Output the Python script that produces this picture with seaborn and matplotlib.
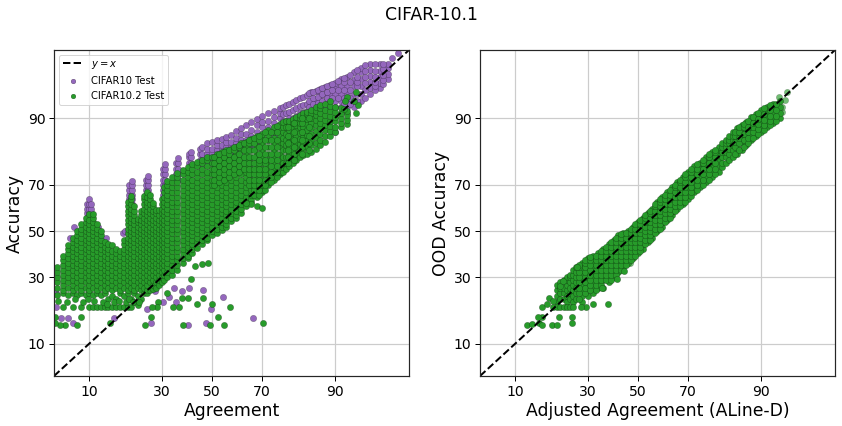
import numpy as np
import pandas as pd
import matplotlib
matplotlib.use('Agg')
import matplotlib.pyplot as plt
import seaborn as sns
from statistics import NormalDist

# valores, em %: (agreement, [accuracy, ...]) por coluna
purple_spikes = [
    (9.6, [56, 58, 60, 62]), (10, [54, 56, 58, 60, 62, 64]), (10.4, [56, 58, 60, 62]),
    (19.5, [60, 62, 64, 66, 68, 70]), (20.2, [60, 62, 64, 66, 68, 70, 71.5]),
    (24.6, [64, 66, 68, 70, 72]), (25.2, [64, 66, 68, 70, 72, 73.5]),
    (30.5, [64, 66, 68, 70, 72, 74, 76]), (31.3, [66, 68, 70, 72, 74, 76, 77.5]),
    (35.5, [72, 74, 76, 78]), (36.3, [72, 74, 76, 78, 79.5]),
    (40.5, [74, 76, 78, 80, 81]), (41.5, [74, 76, 78, 80, 81.5]),
    (45, [77, 79, 81, 82.5]), (46, [77, 79, 81, 83]),
]
purple_band = [
    (48, [78, 79.5, 81, 82.5, 84]), (50, [78, 79.5, 81, 82.5, 84.3]),
    (52, [79, 80.5, 82, 83.5, 84.8]), (54, [79, 80.5, 82, 83.5, 85.2]),
    (56, [80, 81.5, 83, 84.5, 85.8]), (58, [80, 81.5, 83, 84.5, 86.3]),
    (60, [81, 82.5, 84, 85.5, 87.2]), (62, [82, 83.5, 85, 86.5, 87.9]),
    (64, [82, 83.5, 85, 86.5, 88.6]), (66, [83, 84.5, 86, 87.5, 89.2]),
    (68, [84, 85.5, 87, 88.5, 89.8]), (70, [85, 86.5, 88, 89.2, 90.4]),
    (72, [85, 86.5, 88, 89.5, 91]), (74, [86, 87.5, 89, 90.3, 91.4]),
    (76, [87, 88.5, 90, 91, 91.9]), (77, [88, 89.5, 90.7, 92]),
    (78, [88, 89.5, 91, 92.3]), (79, [88.5, 90, 91.2, 92.6]),
    (80, [88.5, 90, 91.5, 92.9]), (81, [89, 90.5, 91.8, 93.1]),
    (82, [89.5, 91, 92.2, 93.4]), (83, [90, 91.2, 92.4, 93.6]),
    (84, [90, 91.3, 92.6, 93.9]), (85, [90.5, 91.8, 93, 94.2]),
    (86, [91, 92.2, 93.3, 94.4]), (87, [91.5, 92.6, 93.7, 94.7]),
    (88, [92, 93, 94, 94.9]), (89, [92, 93, 94, 95.1]),
    (90, [92, 93, 94, 95, 95.4]), (91, [92, 93, 94, 95, 95.8]),
    (92, [91, 92, 93, 94, 95, 96]), (93, [92, 93, 94, 95, 95.7, 96.4]),
    (94, [93, 94, 95, 95.8, 96.4, 96.8]), (95, [94, 94.8, 95.5, 96.1, 96.6, 97.1]),
    (96, [94.8, 95.4, 96, 96.5, 97.1]), (96.7, [95.8, 96.3, 96.8, 97.1]),
    (97, [97.5]), (97.4, [97.8]),
]
purple_fill = [
    (84.5, [92, 93, 94.1]), (85.5, [92.5, 93.5, 94.3]), (86.5, [92.7, 93.6, 94.5]),
    (87.5, [93, 94, 94.8]), (88.5, [93.4, 94.3, 95]), (89.5, [93.5, 94.5, 95.2]),
    (90.5, [93.5, 94.5, 95.6]), (91.5, [92.5, 93.5, 94.5, 95.5, 95.9]),
    (92.5, [92.5, 93.5, 94.5, 95.5, 96.2]), (93.5, [93, 94, 95, 95.5, 96, 96.6]),
    (94.5, [93.5, 94.5, 95.3, 96, 96.5, 97]), (95.5, [94.5, 95, 95.5, 96, 96.5, 97.1]),
    (96.3, [95.2, 95.7, 96.2, 96.7, 97.1]),
]
purple_stray = [
    (34.6, [25.9]), (37.7, [24.8]), (40.5, [25.9]), (46.3, [25.1]), (54.6, [22.7]),
    (30.5, [21]), (32.7, [22.7]), (35.4, [21]), (24.9, [18.8]), (49.6, [18.8]),
    (66.5, [16.1]), (6.7, [16.1]), (5.8, [16.1]), (15.4, [16.1]), (40.1, [14.3]),
    (47.5, [14.8]), (26.3, [14.8]), (7.4, [14.8]), (27.6, [24.8]),
    (7.6, [52]), (11.7, [52]), (7, [47]), (13.4, [47]), (17.6, [49]), (18.2, [50]),
    (5.2, [19.4, 24]), (90, [87]),
]
green_cluster = [
    (5.3, [23.5, 26, 28, 30, 32, 34]),
    (6, [19.4, 24, 25, 27, 29, 31, 33, 35, 37, 39]),
    (6.7, [23.5, 26, 28, 30, 32, 34, 36, 38, 40, 42, 43.5]),
    (7.4, [19.4, 24, 25, 27, 29, 31, 33, 35, 37, 39, 41, 43, 45, 47]),
    (8, [23.5, 26, 28, 30, 32, 34, 36, 38, 40, 42, 44, 46, 48, 50]),
    (8.7, [19.4, 24, 25, 27, 29, 31, 33, 35, 37, 39, 41, 43, 45, 47, 49, 51, 53]),
    (9.4, [23.5, 26, 28, 30, 32, 34, 36, 38, 40, 42, 44, 46, 48, 50, 52, 54, 56]),
    (10, [19.4, 24, 25, 27, 29, 31, 33, 35, 37, 39, 41, 43, 45, 47, 49, 51, 53, 55, 57.5]),
    (10.7, [19.4, 23.5, 26, 28, 30, 32, 34, 36, 38, 40, 42, 44, 46, 48, 50, 52, 54, 56, 57.5]),
    (11.5, [19.4, 24, 25, 27, 29, 31, 33, 35, 37, 39, 41, 43, 45, 47, 49, 51, 53]),
    (12.3, [19.4, 23.5, 26, 28, 30, 32, 34, 36, 38, 40, 42, 44, 46, 48, 50]),
    (13.2, [19.4, 24, 25, 27, 29, 31, 33, 35, 37, 39, 41, 43, 45]),
    (14, [19.4, 22, 26, 28, 30, 32, 34, 36, 38, 40, 42, 44]),
    (15, [19.4, 23, 25, 27, 29, 31, 33, 35, 37, 39, 41, 43.5]),
    (16, [19.4, 22, 26, 28, 30, 32, 34, 36, 38, 40, 42]),
    (17, [19.4, 24, 25, 27, 29, 31, 33, 35, 37, 39, 41]),
    (18, [19.4, 23, 26, 28, 30, 32, 34, 36, 38, 40, 42, 44, 46]),
    (19, [19.4, 24, 25, 27, 29, 31, 33, 35, 37, 39, 41, 43, 45, 47, 49, 51, 53, 55, 57, 59, 61, 63]),
    (20, [19.4, 22, 26, 28, 30, 32, 34, 36, 38, 40, 42, 44, 46, 48, 50, 52, 54, 56, 58, 60, 62, 64, 65.5]),
    (21, [21, 24, 25, 27, 29, 31, 33, 35, 37, 39, 41, 43, 45, 47, 49, 51, 53, 55, 57, 59, 61]),
    (22, [20, 23, 26, 28, 30, 32, 34, 36, 38, 40, 42, 44, 46, 48, 50, 52, 54, 55.5]),
    (23, [22, 25, 27, 29, 31, 33, 35, 37, 39, 41, 43, 45, 47, 49, 51, 53, 55, 57, 59]),
    (24, [24, 26, 28, 30, 32, 34, 36, 38, 40, 42, 44, 46, 48, 50, 52, 54, 56, 58, 60, 62, 64, 65.5]),
    (25, [24, 25, 27, 29, 31, 33, 35, 37, 39, 41, 43, 45, 47, 49, 51, 53, 55, 57, 59, 61, 63, 65, 67]),
    (26, [25, 28, 30, 32, 34, 36, 38, 40, 42, 44, 46, 48, 50, 52, 54, 56, 58, 60, 62, 64, 66]),
    (27, [25.5, 27, 29, 31, 33, 35, 37, 39, 41, 43, 45, 47, 49, 51, 53, 55, 57, 59, 61, 62.5]),
    (28, [26, 28, 30, 32, 34, 36, 38, 40, 42, 44, 46, 48, 50, 52, 54, 56, 58, 59.5]),
    (29, [27, 29, 31, 33, 35, 37, 39, 41, 43, 45, 47, 49, 51, 53, 55, 57, 59.5]),
    (30, [28, 30, 32, 34, 36, 38, 40, 42, 44, 46, 48, 50, 52, 54, 56, 58, 60, 62, 64]),
    (31, [29, 31, 33, 35, 37, 39, 41, 43, 45, 47, 49, 51, 53, 55, 57, 59, 61, 63, 65, 67, 69]),
]
green_low = [
    (5.5, [21.5]), (6.5, [21]), (7.7, [22]), (9, [21]), (9.8, [22]), (11, [21.5]),
    (12.8, [21]), (13.8, [20.5]), (15.5, [21]), (16.6, [21.5]), (18.5, [21]),
    (19.5, [22]), (20.5, [21]), (22.5, [21]),
]
green_band = [
    (32, [30, 32, 34, 36, 38, 40, 42, 44, 46, 48, 50, 52, 54, 56, 58, 60, 62, 64, 66, 68, 70, 71.5]),
    (34, [31, 33, 35, 37, 39, 41, 43, 45, 47, 49, 51, 53, 55, 57, 59, 61, 63, 65, 67, 69, 71, 73]),
    (36, [33, 35, 37, 39, 41, 43, 45, 47, 49, 51, 53, 55, 57, 59, 61, 63, 65, 67, 69, 71, 73, 74.5]),
    (38, [36, 38, 40, 42, 44, 46, 48, 50, 52, 54, 56, 58, 60, 62, 64, 66, 68, 70, 72, 74, 75.5]),
    (40, [38, 39, 41, 43, 45, 47, 49, 51, 53, 55, 57, 59, 61, 63, 65, 67, 69, 71, 73, 75, 76.7]),
    (42, [40, 42, 44, 46, 48, 50, 52, 54, 56, 58, 60, 62, 64, 66, 68, 70, 72, 74, 76, 77.7]),
    (44, [42.5, 45, 47, 49, 51, 53, 55, 57, 59, 61, 63, 65, 67, 69, 71, 73, 75, 77, 78.3]),
    (46, [44, 46, 48, 50, 52, 54, 56, 58, 60, 62, 64, 66, 68, 70, 72, 74, 76, 78, 79]),
    (48, [46, 47, 49, 51, 53, 55, 57, 59, 61, 63, 65, 67, 69, 71, 73, 75, 77, 79, 80]),
    (50, [48, 50, 52, 54, 56, 58, 60, 62, 64, 66, 68, 70, 72, 74, 76, 78, 80]),
    (52, [49, 51, 53, 55, 57, 59, 61, 63, 65, 67, 69, 71, 73, 75, 77, 79, 81]),
    (54, [50.5, 52, 54, 56, 58, 60, 62, 64, 66, 68, 70, 72, 74, 76, 78, 80, 81.5]),
    (56, [52, 53, 55, 57, 59, 61, 63, 65, 67, 69, 71, 73, 75, 77, 79, 81, 82]),
    (58, [54.5, 56, 58, 60, 62, 64, 66, 68, 70, 72, 74, 76, 78, 80, 82.5]),
    (60, [56, 57, 59, 61, 63, 65, 67, 69, 71, 73, 75, 77, 79, 81, 83]),
    (62, [58, 60, 62, 64, 66, 68, 70, 72, 74, 76, 78, 80, 82, 84]),
    (64, [61, 63, 65, 67, 69, 71, 73, 75, 77, 79, 81, 83, 84.5]),
    (66, [63, 64, 66, 68, 70, 72, 74, 76, 78, 80, 82, 84, 85.2]),
    (68, [65, 67, 69, 71, 73, 75, 77, 79, 81, 83, 85, 86]),
    (70, [67, 68, 70, 72, 74, 76, 78, 80, 82, 84, 85.5, 86.5]),
    (72, [70, 71, 73, 75, 77, 79, 81, 83, 85, 86.3, 87.5]),
    (74, [72, 74, 76, 78, 80, 82, 84, 85.5, 87, 88]),
    (76, [74, 75, 77, 79, 81, 83, 84.5, 86, 87.5, 88.8]),
    (77, [75, 76.5, 78, 80, 82, 84, 85.5, 87, 88.2, 89.2]),
    (78, [76, 78, 80, 82, 83.5, 85, 86.5, 88, 89.4]),
    (79, [77, 79, 81, 83, 84.5, 86, 87.3, 88.5, 89.5]),
    (80, [78, 80, 82, 83.8, 85.3, 86.8, 88, 89, 89.8]),
    (81, [79, 81, 83, 84.5, 86, 87.3, 88.5, 89.5, 90.2]),
    (82, [80, 82, 83.7, 85.2, 86.6, 88, 89, 90, 90.6]),
    (83, [80.5, 82.5, 84.2, 85.7, 87, 88.2, 89.3, 90.3, 91]),
    (84, [81, 83, 84.8, 86.2, 87.5, 88.7, 89.8, 90.7, 91.2]),
    (85, [81.5, 83.5, 85, 86.5, 87.8, 89, 90, 91, 91.6]),
    (86, [82.5, 84.2, 85.8, 87.2, 88.5, 89.6, 90.6, 91.4, 92]),
    (87, [83.5, 85, 86.5, 87.8, 89, 90, 91, 91.8, 92.3]),
    (88, [84.5, 86, 87.3, 88.5, 89.6, 90.6, 91.5, 92.5]),
    (89, [86, 87.2, 88.4, 89.5, 90.5, 91.4, 92.2, 93]),
    (90, [87, 88.2, 89.3, 90.3, 91.2, 92]),
    (91, [88, 89, 90, 91, 91.8]),
    (92, [88.7, 89.7, 90.6, 91.4]),
]
green_fill = [
    (51, [70, 72, 74, 76, 78, 80]), (53, [71, 73, 75, 77, 79, 81]),
    (55, [72, 74, 76, 78, 80, 81.5]), (57, [73, 75, 77, 79, 81, 82]),
    (59, [74, 76, 78, 80, 82, 83]), (61, [75, 77, 79, 81, 83, 83.5]),
    (63, [76, 78, 80, 82, 84]), (65, [70, 72, 74, 76, 78, 80, 82, 84, 85]),
    (67, [66, 68, 70, 72, 74, 76, 78, 80, 82, 84, 85.5]),
    (69, [66, 68, 70, 72, 74, 76, 78, 79, 81, 83, 85, 86]),
    (71, [68, 70, 72, 74, 76, 78, 79, 81, 83, 85, 87]),
    (73, [71, 73, 75, 77, 79, 81, 83, 85, 87]),
    (75, [73, 75, 77, 79, 81, 83, 85, 87, 88.3]),
    (78.5, [78, 80, 82, 84, 86, 88]), (80.5, [79, 81, 83, 85, 87, 89]),
    (82.5, [81, 83, 85, 87, 89, 90]), (84.5, [82, 84, 86, 88, 90]),
]
green_stray = [
    (41.3, [29.3]), (43, [34.5]), (45.9, [35.4]), (48.3, [35.8]), (32, [24]),
    (40.1, [22.3]), (37.7, [22.3]), (46.3, [22.3]), (28.7, [21]), (43.8, [20.3]),
    (50, [20.3]), (34.2, [19.4]), (36.5, [19.4]), (57.4, [19.4]), (52.5, [16.4]),
    (26.3, [16.4]), (28.3, [19.4]), (26.6, [19.4]), (8.6, [16.4]), (14.4, [14.8]),
    (24.3, [14.3]), (38.1, [14.3]), (49.2, [14.3]), (55, [14.3]), (70.2, [14.8]),
    (8, [14.3]), (6.3, [14.3]), (5.7, [14.3]), (5.1, [14.8, 16.4]),
    (66, [62]), (68, [61]), (70, [60.5]), (64, [62.5]),
    (93.3, [94.2, 91]), (93.6, [92.3]), (93, [93]), (92, [93.6]), (91.8, [93]), (91.5, [91.7]),
]
ood_band = [
    (20, [21, 23, 25, 27]), (21, [22, 24, 26, 28]),
    (22, [22, 24, 26, 28, 29]), (23, [21, 23, 25, 27, 29, 30]),
    (24, [22, 24, 26, 28, 30, 31]), (25, [21, 23, 25, 27, 29, 31, 33]),
    (26, [22, 24, 26, 28, 30, 32, 34]), (28, [21, 23, 25, 27, 29, 31, 33, 35, 36]),
    (30, [23, 25, 27, 29, 31, 33, 35, 37, 38]), (32, [24, 26, 28, 30, 32, 34, 36, 38, 39]),
    (34, [26, 28, 30, 32, 34, 36, 38, 40]), (36, [26, 29, 31, 33, 35, 37, 39, 41, 42]),
    (38, [28, 30, 32, 34, 36, 38, 40, 42, 44]), (40, [30, 32, 34, 36, 38, 40, 42, 44, 46]),
    (42, [32, 34, 36, 38, 40, 42, 44, 46, 48]), (44, [34, 36, 38, 40, 42, 44, 46, 48, 49]),
    (46, [36, 38, 40, 42, 44, 46, 48, 50]), (48, [38, 40, 42, 44, 46, 48, 50, 52]),
    (50, [40, 42, 44, 46, 48, 50, 52, 54]), (52, [42, 44, 46, 48, 50, 52, 54, 56]),
    (54, [45, 47, 49, 51, 53, 55, 57, 58]), (56, [47, 49, 51, 53, 55, 57, 59, 60]),
    (58, [50, 52, 54, 56, 58, 60, 62, 63]), (60, [52, 54, 56, 58, 60, 62, 64, 65]),
    (62, [55, 57, 59, 61, 63, 65, 67]), (64, [57, 59, 61, 63, 65, 67, 69]),
    (66, [60, 62, 64, 66, 68, 70, 71]), (68, [62, 64, 66, 68, 70, 72, 73]),
    (70, [64, 66, 68, 70, 72, 74, 75]), (72, [67, 69, 71, 73, 75, 77]),
    (74, [69, 71, 73, 75, 77, 78]), (76, [71, 73, 75, 77, 79, 80]),
    (78, [73, 75, 77, 79, 80.5, 81.5]), (80, [75, 77, 79, 81, 82, 83]),
    (81, [76.5, 78, 80, 81.5, 83, 84]), (82, [78, 80, 81.5, 83, 84, 85]),
    (83, [79, 81, 82.5, 84, 85, 86]), (84, [80, 82, 83.5, 85, 86, 87]),
    (85, [81, 83, 84.5, 85.8, 87, 87.8]), (86, [82, 84, 85.5, 86.8, 88, 88.5]),
    (87, [83.5, 85, 86.3, 87.5, 88.5, 89.2]), (88, [85, 86.2, 87.4, 88.5, 89.5, 90.2]),
    (89, [86, 87.2, 88.3, 89.3, 90.2, 90.8]), (90, [87, 88, 89, 90, 90.8, 91.5]),
    (91, [88, 89, 90, 91, 92]), (92, [89, 90, 91, 92, 92.5]), (93, [90, 91, 92, 93]),
]
ood_fill = [
    (27, [22, 24, 26, 28, 30, 32, 34, 35]), (29, [24, 26, 28, 30, 32, 34, 36, 37]),
    (31, [25, 27, 29, 31, 33, 35, 37, 38.5]), (33, [25, 27, 29, 31, 33, 35, 37, 39]),
    (35, [27, 29, 31, 33, 35, 37, 39, 41]), (37, [29, 31, 33, 35, 37, 39, 41, 43]),
    (39, [29, 31, 33, 35, 37, 39, 41, 43, 45]), (41, [31, 33, 35, 37, 39, 41, 43, 45, 47]),
    (43, [33, 35, 37, 39, 41, 43, 45, 47, 48.5]), (45, [35, 37, 39, 41, 43, 45, 47, 49]),
    (47, [37, 39, 41, 43, 45, 47, 49, 51]), (49, [39, 41, 43, 45, 47, 49, 51, 53]),
    (51, [41, 43, 45, 47, 49, 51, 53, 55]), (53, [44, 46, 48, 50, 52, 54, 56, 57]),
    (55, [46, 48, 50, 52, 54, 56, 58, 59]), (57, [49, 51, 53, 55, 57, 59, 61, 62]),
    (59, [51, 53, 55, 57, 59, 61, 63, 64]), (61, [54, 56, 58, 60, 62, 64, 66]),
    (63, [56, 58, 60, 62, 64, 66, 68]), (65, [59, 61, 63, 65, 67, 69, 70]),
    (67, [61, 63, 65, 67, 69, 71, 72]), (69, [63, 65, 67, 69, 71, 73, 74]),
    (71, [65.5, 67, 69, 71, 73, 75, 76]), (73, [68, 70, 72, 74, 76, 77.5]),
    (75, [70, 72, 74, 76, 78, 79]), (77, [72, 74, 76, 78, 80, 81]),
    (79, [74, 76, 78, 80, 81.5, 82]), (84.5, [81, 83, 84.5, 86, 87]),
    (85.5, [82, 84, 85.5, 87, 88]), (86.5, [83, 85, 86.5, 88, 88.8]),
    (87.5, [84, 85.5, 87, 88.2, 89.5]), (88.5, [85.5, 87, 88, 89, 90.2]),
    (89.5, [86.5, 87.7, 88.8, 89.8, 91]), (90.5, [87.5, 88.6, 89.7, 90.7, 91.8]),
    (91.5, [88.5, 89.5, 90.5, 91.5, 92.3]), (92.5, [89.5, 90.5, 91.5, 92.5]),
]
ood_stray = [
    (12.4, [14.3]), (13.5, [14.6]), (15.1, [14.8]), (15.9, [14.3, 16.4, 19.4]),
    (18.5, [14.3]), (19.9, [14.3]), (24.6, [14.8, 16.4]), (20.5, [16.4]), (14.9, [16.4]),
    (17.2, [20.3]), (17.7, [22.3]), (18.8, [21.3, 19.4]), (32, [20.3]), (37.7, [20.3]),
    (29.4, [19.4]), (27.6, [19.4]), (20.8, [26.5]), (21.7, [28.4]), (26.3, [34]),
    (35.4, [25.9]), (41.3, [29.3]), (44.2, [32.4]),
    (20, [19.4]), (21, [19.4]), (22, [19.4]), (23, [19.4]), (24, [19.4]), (25, [19.4]),
]
ood_light = [(93.7, [93.2]), (94, [94.3]), (93.3, [91.2, 92]), (92.9, [93.6]), (46.7, [35.8])]

tick_vals = [10, 30, 50, 70, 90]
limites = (5, 98)
nd = NormalDist()


def probit(p):
    p = np.clip(np.asarray(p, dtype=float) / 100, 1e-6, 1 - 1e-6)
    return np.vectorize(nd.inv_cdf, otypes=[float])(p)


def inv_probit(z):
    return np.vectorize(nd.cdf, otypes=[float])(np.asarray(z, dtype=float)) * 100


def colunas(*grupos):
    linhas = [(x, y) for grupo in grupos for x, ys in grupo for y in ys]
    return pd.DataFrame(linhas, columns=['x', 'y'])


sns.set_style('ticks', {'axes.grid': True, 'grid.color': '.8', 'axes.edgecolor': '.15',
                        'text.color': 'black', 'axes.labelcolor': 'black',
                        'xtick.color': 'black', 'ytick.color': 'black'})
plt.rcParams['font.family'] = ['DejaVu Sans']
plt.rcParams['mathtext.fontset'] = 'dejavusans'

fig = plt.figure(figsize=(842 / 72, 426 / 72), dpi=72)
ax1 = fig.add_axes([54 / 842, 50 / 426, 355 / 842, 326 / 426])
ax2 = fig.add_axes([480 / 842, 50 / 426, 355 / 842, 326 / 426])

verde = '#279b2a'
marker = dict(s=40, edgecolor='k', linewidth=0.2)

ax1.plot(limites, limites, 'k--', lw=2, label='$y = x$')
sns.scatterplot(data=colunas(purple_spikes, purple_band, purple_fill, purple_stray), x='x', y='y',
                color='tab:purple', label='CIFAR10 Test', ax=ax1, **marker)
sns.scatterplot(data=colunas(green_cluster, green_low, green_band, green_fill, green_stray), x='x', y='y',
                color=verde, label='CIFAR10.2 Test', ax=ax1, **marker)
ax1.set_xlabel('Agreement', fontsize=17.2)
ax1.set_ylabel('Accuracy', fontsize=17.2)
ax1.legend(loc='upper left', fontsize=10, markerscale=0.75)

ax2.plot(limites, limites, 'k--', lw=2)
sns.scatterplot(data=colunas(ood_light), x='x', y='y', color=verde, alpha=0.65, ax=ax2, **marker)
sns.scatterplot(data=colunas(ood_band, ood_fill, ood_stray), x='x', y='y', color=verde, ax=ax2, **marker)
ax2.set_xlabel('Adjusted Agreement (ALine-D)', fontsize=17.2)
ax2.set_ylabel('OOD Accuracy', fontsize=17.2)

for ax in (ax1, ax2):
    ax.set_xscale('function', functions=(probit, inv_probit))
    ax.set_yscale('function', functions=(probit, inv_probit))
    ax.set_xlim(limites)
    ax.set_ylim(limites)
    ax.set_xticks(tick_vals)
    ax.set_yticks(tick_vals)
    ax.set_xticklabels(tick_vals)
    ax.set_yticklabels(tick_vals)
    ax.minorticks_off()
    ax.tick_params(labelsize=14, length=5, width=1, left=True, bottom=True)
    ax.grid(True, color='.8', lw=1.2)
    ax.set_axisbelow(True)
    for s in ax.spines.values():
        s.set_visible(True)
        s.set_linewidth(1.2)

fig.suptitle('CIFAR-10.1', fontsize=17.2, x=0.513, y=0.985)
fig.savefig('out.png', dpi=72)
plt.close()
